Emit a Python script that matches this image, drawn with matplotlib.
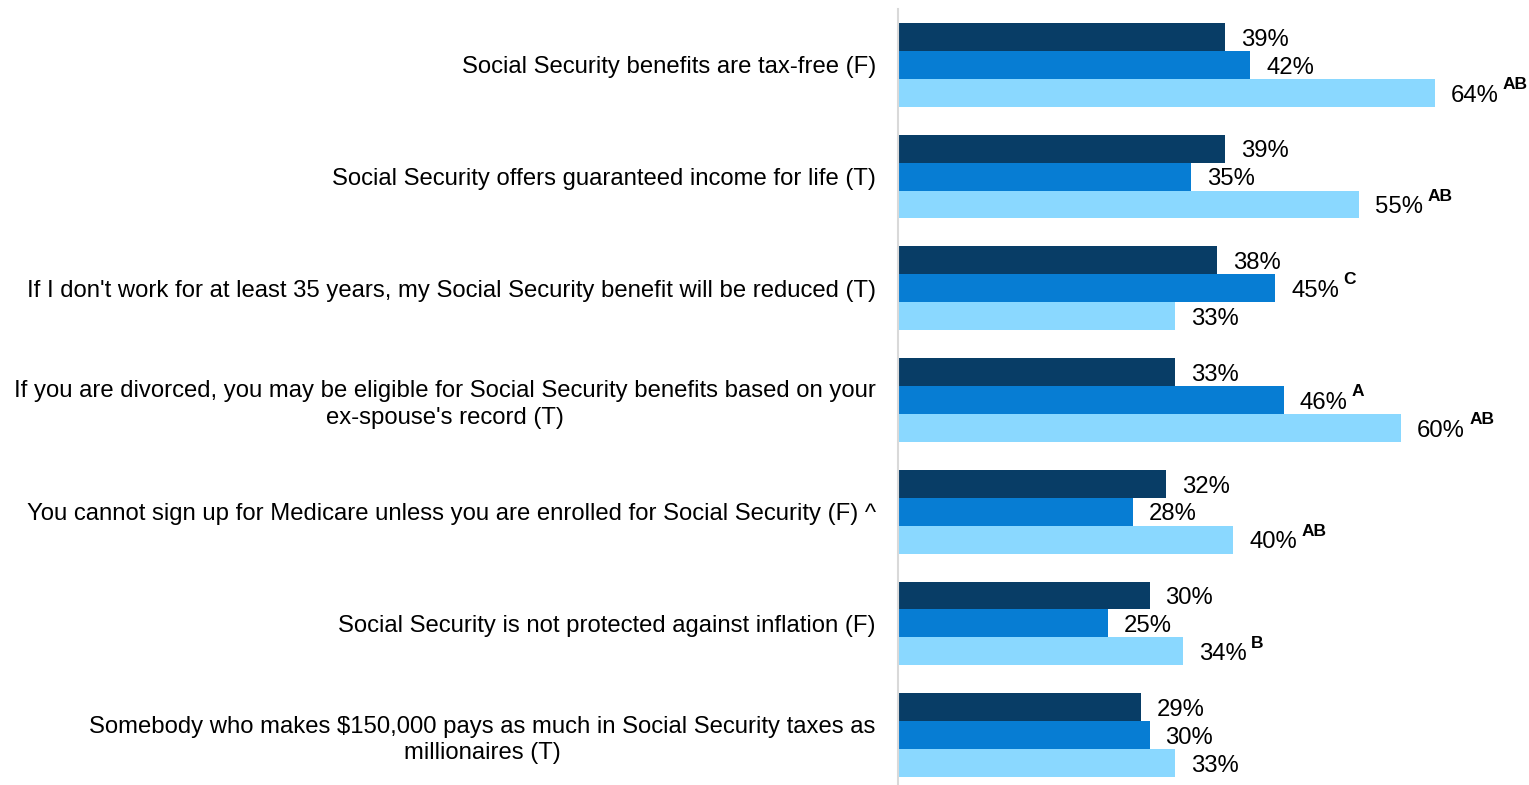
from matplotlib import pyplot as plt

categories = [
    "Social Security benefits are tax-free (F)",
    "Social Security offers guaranteed income for life (T)",
    "If I don't work for at least 35 years, my Social Security benefit will be reduced (T)",
    "If you are divorced, you may be eligible for Social Security benefits based on your\nex-spouse's record (T)",
    "You cannot sign up for Medicare unless you are enrolled for Social Security (F) ^",
    "Social Security is not protected against inflation (F)",
    "Somebody who makes $150,000 pays as much in Social Security taxes as\nmillionaires (T)",
]

# percentages per series, same order as categories
series_a = [39, 39, 38, 33, 32, 30, 29]
series_b = [42, 35, 45, 46, 28, 25, 30]
series_c = [64, 55, 33, 60, 40, 34, 33]

# significance letters shown next to each value
sig_a = ["", "", "", "", "", "", ""]
sig_b = ["", "", "C", "A", "", "", ""]
sig_c = ["AB", "AB", "", "AB", "AB", "B", ""]

colors = ["#083d66", "#077dd3", "#8ad8ff"]

plt.rcParams['font.family'] = ['Liberation Sans', 'DejaVu Sans']

FONT_SIZE = 17.2
SUP_SIZE = 12.5
BAR_H = 0.25


def draw_series(ax, values, sigs, offset, color):
    """Draw one series of bars with value labels and superscripts."""
    ypos = [i + offset for i in range(len(values))]
    ax.barh(ypos, values, height=BAR_H, color=color, edgecolor='none')
    for y, v, s in zip(ypos, values, sigs):
        txt = ax.annotate(f'{v}%', xy=(v, y), xytext=(11.5, -2),
                          textcoords='offset points', ha='left', va='center',
                          fontsize=FONT_SIZE, color='black')
        if s:
            ax.annotate(s, xy=(1, 0.5), xycoords=txt, xytext=(3, 8),
                        textcoords='offset points', ha='left', va='center',
                        fontsize=SUP_SIZE, fontweight='bold', color='black')


def plot_all():
    fig = plt.figure(figsize=(15.29, 7.85), dpi=100)
    ax = fig.add_axes([898 / 1529, -6 / 785, 75 * 8.385 / 1529, 782 / 785])

    draw_series(ax, series_a, sig_a, -BAR_H, colors[0])
    draw_series(ax, series_b, sig_b, 0.0, colors[1])
    draw_series(ax, series_c, sig_c, BAR_H, colors[2])

    ax.set_xlim(0, 75)
    ax.set_ylim(len(categories) - 0.5, -0.5)
    ax.set_yticks(range(len(categories)))
    ax.set_yticklabels(categories, fontsize=FONT_SIZE)
    ax.tick_params(axis='y', length=0, pad=16)
    ax.set_xticks([])

    for lbl in ax.get_yticklabels():
        lbl.set_multialignment('center')
        lbl.set_linespacing(1.25)

    for side in ['top', 'right', 'bottom']:
        ax.spines[side].set_visible(False)
    ax.spines['left'].set_color('#d9d9d9')
    ax.spines['left'].set_linewidth(1.5)


if __name__ == "__main__":
    plot_all()
    plt.savefig("out.png", dpi=100)
